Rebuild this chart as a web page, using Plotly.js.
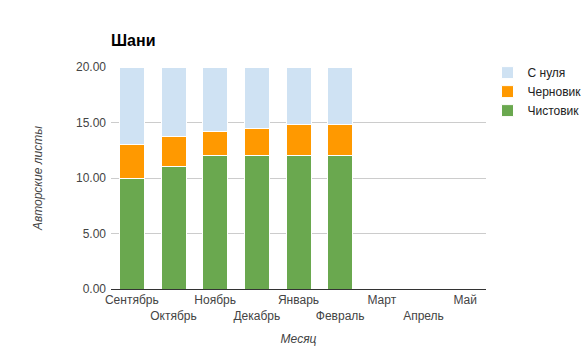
<!DOCTYPE html>
<html><head><meta charset="utf-8">
<script src="https://cdn.plot.ly/plotly-3.0.1.min.js"></script>
<style>html,body{margin:0;padding:0;background:#fff}#chart{width:586px;height:351px}</style>
</head><body><div id="chart"></div>
<script>
const months = ["Сентябрь","Октябрь","Ноябрь","Декабрь","Январь","Февраль","Март","Апрель","Май"];
const clean = [10, 11, 12, 12, 12, 12, null, null, null];
const draft = [3, 2.7, 2.2, 2.45, 2.8, 2.8, null, null, null];
const fromScratch = [7, 6.3, 5.8, 5.55, 5.2, 5.2, null, null, null];
const yTicks = [0, 5, 10, 15, 20];

const tickText = months.map((m, i) => i % 2 === 1 ? "<br>" + m : m);
const line = {color: "#ffffff", width: 1};
const traces = [
  {name: "Чистовик", x: months, y: clean, type: "bar", marker: {color: "#6aa84f", line}},
  {name: "Черновик", x: months, y: draft, type: "bar", marker: {color: "#ff9900", line}},
  {name: "С нуля", x: months, y: fromScratch, type: "bar", marker: {color: "#cfe2f3", line}}
];
const font = {family: "Liberation Sans, Arial, sans-serif", size: 12, color: "#444"};
Plotly.newPlot("chart", traces, {
  width: 586, height: 351,
  margin: {l: 111, r: 100, t: 67, b: 62, autoexpand: false},
  barmode: "stack", bargap: 0.4,
  paper_bgcolor: "#fff", plot_bgcolor: "#fff",
  font,
  title: {text: "<b>Шани</b>", x: 111/586, xanchor: "left", y: 1 - 40/351, yanchor: "middle",
          font: {family: "Liberation Sans, Arial, sans-serif", size: 16, color: "#000"}},
  xaxis: {type: "category", tickmode: "array", tickvals: months, ticktext: tickText,
          showline: true, linecolor: "#333", linewidth: 1, ticks: "", showgrid: false,
          tickangle: 0, automargin: false,
          title: {text: "<i>Месяц</i>", standoff: 12, font: {size: 12, color: "#444"}}},
  yaxis: {range: [0, 20], tickvals: yTicks, tickformat: ".2f", gridcolor: "#cccccc",
          zeroline: false, ticks: "", automargin: false, ticklabelstandoff: 4,
          title: {text: "<i>Авторские листы</i>", standoff: 30, font: {size: 12, color: "#444"}}},
  legend: {x: 1.004, xanchor: "left", y: 1.04, yanchor: "top", traceorder: "reversed",
           font: {size: 12, color: "#222"}, tracegroupgap: 0, itemwidth: 30}
}, {displayModeBar: false, staticPlot: true});
</script></body></html>
